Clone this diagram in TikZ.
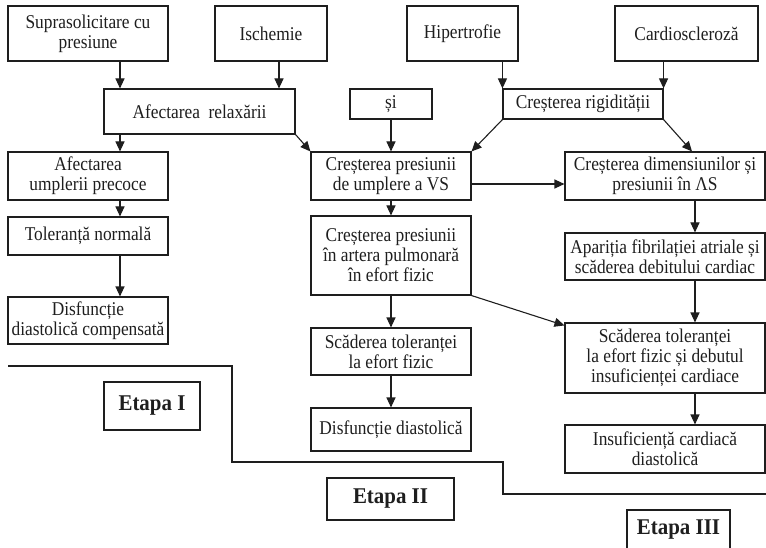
\documentclass[tikz,border=0pt]{standalone}
\usepackage{fontspec}
\setmainfont[FakeStretch=0.89]{Liberation Serif}
\newfontfamily\etfont[FakeStretch=0.93]{Liberation Serif}
\usetikzlibrary{arrows.meta}
\definecolor{ink}{RGB}{30,30,30}
\begin{document}
\begin{tikzpicture}[x=1pt,y=-1pt,
  box/.style={draw=ink, line width=1.1pt, align=center, inner sep=0pt, text=ink,
              font=\fontsize{19.5}{20}\selectfont},
  etbox/.style={box, font=\etfont\fontsize{22.5}{24}\selectfont\bfseries},
  arr/.style={draw=ink, line width=1.1pt, -{Triangle[length=10pt,width=9pt]}},
  stage/.style={draw=ink, line width=1.1pt}]
\useasboundingbox (0,0) rectangle (766,548);
% top row
\node[box, minimum width=160pt, minimum height=55pt] (sup) at (88,33.5) {Suprasolicitare cu\\presiune};
\node[box, minimum width=112pt, minimum height=55pt] (isc) at (271,33.5) {Ischemie};
\node[box, minimum width=111pt, minimum height=55pt] (hip) at (462.5,33.5) {Hipertrofie};
\node[box, minimum width=143pt, minimum height=55pt] (card) at (686.5,33.5) {Cardioscleroză};
% second row
\node[box, minimum width=191pt, minimum height=45pt] (afr) at (199.5,111.5) {Afectarea\ \ relaxării};
\node[box, minimum width=82pt, minimum height=30pt] (si) at (391,104) {și};
\node[box, minimum width=160pt, minimum height=30pt] (rig) at (583,104) {Creșterea rigidității};
% left column
\node[box, minimum width=160pt, minimum height=48pt] (aup) at (88,176) {Afectarea\\umplerii precoce};
\node[box, minimum width=160pt, minimum height=38pt] (tol) at (88,236) {Toleranță normală};
\node[box, minimum width=160pt, minimum height=47pt] (dcomp) at (88,320.5) {Disfuncție\\diastolică compensată};
% middle column
\node[box, minimum width=160pt, minimum height=48pt] (cpu) at (391,176) {Creșterea presiunii\\de umplere a VS};
\node[box, minimum width=160pt, minimum height=79pt] (cap) at (391,255.5) {Creșterea presiunii\\în artera pulmonară\\în efort fizic};
\node[box, minimum width=160pt, minimum height=47pt] (sct) at (391,351.5) {Scăderea toleranței\\la efort fizic};
\node[box, minimum width=160pt, minimum height=43pt] (dd) at (391,429.5) {Disfuncție diastolică};
% right column
\node[box, minimum width=200pt, minimum height=48pt] (cdim) at (665,176) {Creșterea dimensiunilor și\\presiunii în ΛS};
\node[box, minimum width=200pt, minimum height=47pt] (afib) at (665,256.5) {Apariția fibrilației atriale și\\scăderea debitului cardiac};
\node[box, minimum width=200pt, minimum height=70pt] (sct3) at (665,358) {Scăderea toleranței\\la efort fizic și debutul\\insuficienței cardiace};
\node[box, minimum width=200pt, minimum height=48pt] (icd) at (665,449) {Insuficiență cardiacă\\diastolică};
% stage labels
\node[etbox, minimum width=96pt, minimum height=48pt] (e1) at (152,406) {Etapa I};
\node[etbox, minimum width=127pt, minimum height=42pt] (e2) at (390.5,499) {Etapa II};
\node[etbox, minimum width=103pt, minimum height=40pt] (e3) at (678.5,530) {Etapa III};
% stage boundary
\draw[stage] (8,366) -- (232,366) -- (232,462) -- (503,462) -- (503,494) -- (766,494);
% connectors
\draw[arr] ([xshift=32pt]sup.south) -- ([xshift=32pt]sup.south |- afr.north);
\draw[arr] ([xshift=8pt]isc.south) -- ([xshift=8pt]isc.south |- afr.north);
\draw[arr] (rig.north west |- hip.south) -- (rig.north west);
\draw[arr] (rig.north east |- card.south) -- (rig.north east);
\draw[arr] ([xshift=32pt]aup.north |- afr.south) -- ([xshift=32pt]aup.north);
\draw[arr] (afr.south east) -- (cpu.north west);
\draw[arr] (si.south) -- (cpu.north);
\draw[arr] (rig.south west) -- (cpu.north east);
\draw[arr] (rig.south east) -- ([xshift=27pt]cdim.north);
\draw[arr] ([xshift=32pt]aup.south) -- ([xshift=32pt]tol.north);
\draw[arr] ([xshift=32pt]tol.south) -- ([xshift=32pt]dcomp.north);
\draw[arr] (cpu.south) -- (cap.north);
\draw[arr] (cap.south) -- (sct.north);
\draw[arr] (sct.south) -- (dd.north);
\draw[arr] ([yshift=-8pt]cpu.east) -- ([yshift=-8pt]cpu.east -| cdim.west);
\draw[arr] ([xshift=30pt]cdim.south) -- ([xshift=30pt]afib.north);
\draw[arr] ([xshift=30pt]afib.south) -- ([xshift=30pt]sct3.north);
\draw[arr] ([xshift=30pt]sct3.south) -- ([xshift=30pt]icd.north);
\draw[arr] (cap.south east) -- ([yshift=-3pt]sct3.north west);
\end{tikzpicture}
\end{document}
